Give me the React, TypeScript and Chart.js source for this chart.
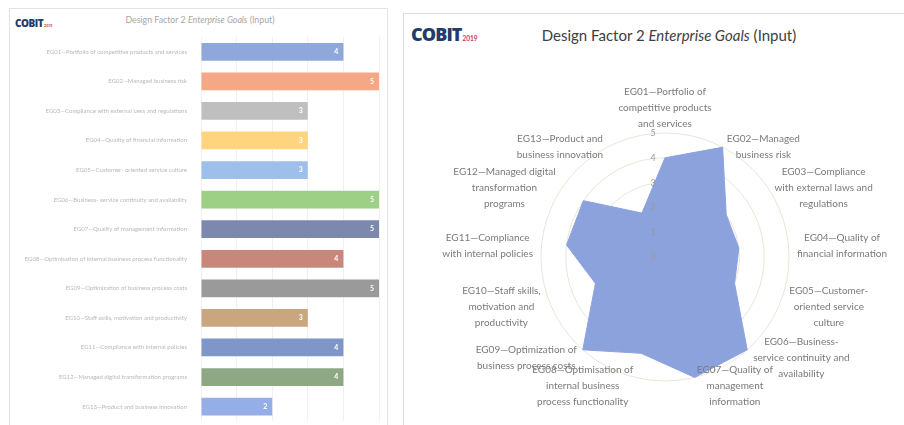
import React, { useEffect, useRef } from 'react';
import { Chart, registerables } from 'chart.js';

Chart.register(...registerables);

// ---------- data ----------
const goalLabels: string[][] = [
  ['EG01—Portfolio of', 'competitive products', 'and services'],
  ['EG02—Managed', 'business risk'],
  ['EG03—Compliance', 'with external laws and', 'regulations'],
  ['EG04—Quality of', 'financial information'],
  ['EG05—Customer-', 'oriented service', 'culture'],
  ['EG06—Business-', 'service continuity and', 'availability'],
  ['EG07—Quality of', 'management', 'information'],
  ['EG08—Optimisation of', 'internal business', 'process functionality'],
  ['EG09—Optimization of', 'business process costs'],
  ['EG10—Staff skills,', 'motivation and', 'productivity'],
  ['EG11—Compliance', 'with internal policies'],
  ['EG12—Managed digital', 'transformation', 'programs'],
  ['EG13—Product and', 'business innovation'],
];
const goalValues: number[] = [4, 5, 3, 3, 3, 5, 5, 4, 5, 3, 4, 4, 2];
const barColors: string[] = [
  '#8fa8dc', '#f4a886', '#bfbfbf', '#ffd47f', '#9dbfe9', '#9dcf84', '#7d88ad',
  '#c9877c', '#9a9a9a', '#c9a67e', '#7f96c9', '#8ea884', '#96aee8',
];
const scaleMin = 0;
const scaleMax = 5;
const scaleStep = 1;
const titleParts: string[] = ['Design Factor 2 ', 'Enterprise Goals', ' (Input)'];
const logoText = 'COBIT';
const logoYear = '2019';

const FONT = 'Lato, "Open Sans", "Liberation Sans", sans-serif';

// ---------- plugins ----------
const barValuePlugin = {
  id: 'barValues',
  afterDatasetsDraw(chart: any) {
    const ctx = chart.ctx;
    const meta = chart.getDatasetMeta(0);
    const data = chart.data.datasets[0].data;
    ctx.save();
    ctx.font = `bold 7px ${FONT}`;
    ctx.fillStyle = '#ffffff';
    ctx.textAlign = 'right';
    ctx.textBaseline = 'middle';
    meta.data.forEach((el: any, i: number) => {
      const p = el.getProps(['x', 'y'], true);
      ctx.fillText(String(data[i]), p.x - 5, p.y);
    });
    ctx.restore();
  },
};

const radarLabelPlugin = {
  id: 'radarLabels',
  afterDatasetsDraw(chart: any) {
    const scale = chart.scales.r;
    const ctx = chart.ctx;
    ctx.save();
    // value ticks along the first axis
    ctx.font = `9px ${FONT}`;
    ctx.fillStyle = '#9a9a9a';
    ctx.textAlign = 'center';
    ctx.textBaseline = 'middle';
    scale.ticks.forEach((t: any) => {
      const d = scale.getDistanceFromCenterForValue(t.value);
      ctx.fillText(String(t.value), scale.xCenter - 12, scale.yCenter - d);
    });
    // category labels
    const lh = 16;
    ctx.font = `10px ${FONT}`;
    ctx.fillStyle = '#7a7a7a';
    const labels = chart.data.labels as string[][];
    labels.forEach((lines, i) => {
      const px = scale.getPointPosition(i, scale.drawingArea + 9).x;
      const py = scale.getPointPosition(i, scale.drawingArea + 5).y + 4;
      const ang = scale.getIndexAngle(i);
      const s = Math.sin(ang);
      const c = Math.cos(ang);
      const w = Math.max(...lines.map((l) => ctx.measureText(l).width));
      const h = lines.length * lh;
      const left = s > 0.15 ? px : s < -0.15 ? px - w : px - w / 2;
      const top = c > 0.9 ? py - h : py - h / 2;
      lines.forEach((l, j) => ctx.fillText(l, left + w / 2, top + lh * j + lh / 2));
    });
    ctx.restore();
  },
};

// ---------- charts ----------
function BarChart() {
  const ref = useRef<HTMLCanvasElement>(null);
  useEffect(() => {
    if (!ref.current) return;
    const chart = new Chart(ref.current, {
      type: 'bar',
      data: {
        labels: goalLabels.map((l) => l.join(' ')),
        datasets: [
          {
            data: goalValues,
            backgroundColor: barColors,
            borderWidth: 0,
            barPercentage: 0.6,
            categoryPercentage: 1,
          },
        ],
      },
      options: {
        indexAxis: 'y',
        animation: false,
        responsive: false,
        layout: { padding: { left: 0, right: 9, top: 29, bottom: 3 } },
        plugins: { legend: { display: false }, tooltip: { enabled: false }, title: { display: false } },
        scales: {
          x: {
            min: scaleMin,
            max: scaleMax,
            ticks: { display: false, stepSize: scaleStep },
            grid: { color: '#f0f0f0', drawTicks: false },
            border: { display: false },
            afterFit: (s: any) => {
              s.height = 0;
            },
          },
          y: {
            grid: { display: false },
            border: { display: false },
            ticks: { color: '#b8b8b8', font: { size: 6, family: FONT }, padding: 6, autoSkip: false },
            afterFit: (s: any) => {
              s.width = 191;
            },
          },
        },
      },
      plugins: [barValuePlugin],
    } as any);
    return () => chart.destroy();
  }, []);
  return <canvas ref={ref} width={378} height={423} style={{ position: 'absolute', left: 10, top: 8, width: 378, height: 423 }} />;
}

function RadarChart() {
  const ref = useRef<HTMLCanvasElement>(null);
  useEffect(() => {
    if (!ref.current) return;
    const chart = new Chart(ref.current, {
      type: 'radar',
      data: {
        labels: goalLabels,
        datasets: [
          {
            data: goalValues,
            backgroundColor: '#8ca2dc',
            borderColor: '#8ca2dc',
            borderWidth: 1,
            pointRadius: 0,
            fill: true,
          },
        ],
      },
      options: {
        animation: false,
        responsive: false,
        layout: { padding: { left: 138, right: 115, top: 83, bottom: 44 } },
        plugins: { legend: { display: false }, tooltip: { enabled: false } },
        scales: {
          r: {
            min: scaleMin,
            max: scaleMax,
            ticks: { display: false, stepSize: scaleStep },
            pointLabels: { display: false },
            angleLines: { display: false },
            grid: { circular: true, color: 'rgba(214,208,186,0.55)' },
          },
        },
      },
      plugins: [radarLabelPlugin],
    } as any);
    return () => chart.destroy();
  }, []);
  return <canvas ref={ref} width={501} height={375} style={{ position: 'absolute', left: 403, top: 50, width: 501, height: 375 }} />;
}

function Logo({ size, left, top }: { size: number; left: number; top: number }) {
  return (
    <div style={{ position: 'absolute', left, top, whiteSpace: 'nowrap', lineHeight: 1 }}>
      <span style={{ fontFamily: '"Open Sans", sans-serif', fontWeight: 800, fontSize: size, color: '#243a6b', letterSpacing: -size * 0.05 }}>{logoText}</span>
      <span style={{ fontFamily: FONT, fontWeight: 700, fontSize: size * 0.36, color: '#c8385a', marginLeft: 1 }}>{logoYear}</span>
    </div>
  );
}

export default function App() {
  return (
    <div style={{ position: 'fixed', left: 0, top: 0, width: 904, height: 425, overflow: 'hidden', background: '#ffffff' }}>
      {/* left panel */}
      <div style={{ position: 'absolute', left: 9, top: 8, width: 379, height: 440, border: '1px solid #e3e3e3', boxSizing: 'border-box' }} />
      <Logo size={10} left={15} top={14} />
      <div style={{ position: 'absolute', left: 100, top: 14, width: 200, textAlign: 'center', fontFamily: FONT, fontSize: 8.8, color: '#a6a6a6', whiteSpace: 'nowrap' }}>
        {titleParts[0]}<i>{titleParts[1]}</i>{titleParts[2]}
      </div>
      <BarChart />
      {/* right panel */}
      <div style={{ position: 'absolute', left: 403, top: 13, width: 520, height: 440, border: '1px solid #dcdcdc', boxSizing: 'border-box' }} />
      <Logo size={18} left={411} top={25} />
      <div style={{ position: 'absolute', left: 519, top: 26, width: 300, textAlign: 'center', fontFamily: FONT, fontSize: 15, color: '#404040', whiteSpace: 'nowrap' }}>
        {titleParts[0]}<i>{titleParts[1]}</i>{titleParts[2]}
      </div>
      <RadarChart />
    </div>
  );
}
